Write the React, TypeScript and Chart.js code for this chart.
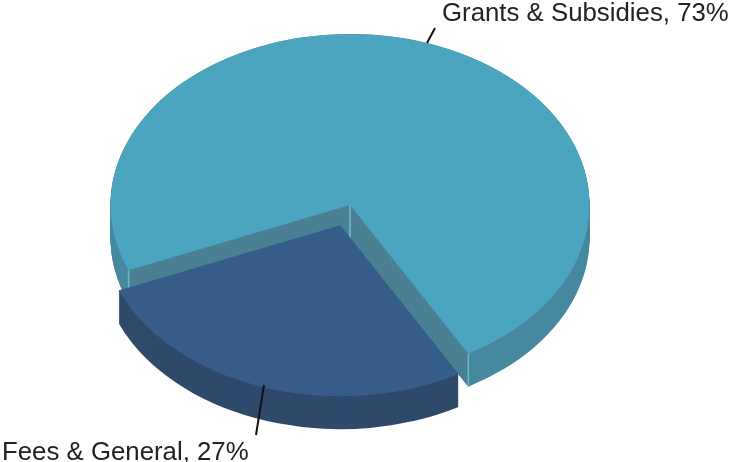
import React, { useEffect, useRef } from "react";
import { Chart, registerables } from "chart.js";

Chart.register(...registerables);

const categories = ["Grants & Subsidies", "Fees & General"];
const shares = [73, 27];
const topColors = ["#4ba5bf", "#365c88"];
const wallColors = ["#46899f", "#2f4a6b"];
const innerColors = ["#4a8092", "#2f4a6b"];
const edgeColors = ["#6fb4c8", "#2f4a6b"];
const explode = [0, 30];

const SQUASH = 0.714;
const DEPTH = 33;

const pie3d = {
  id: "pie3d",
  beforeDatasetDraw(chart: any, args: any) {
    const ctx = chart.ctx as CanvasRenderingContext2D;
    const arcs = args.meta.data as any[];
    const project = (a: any, i: number, ang: number, r: number, d: number) => {
      const mid = (a.startAngle + a.endAngle) / 2;
      return {
        x: a.x + explode[i] * Math.cos(mid) + r * Math.cos(ang),
        y: a.y + (explode[i] * Math.sin(mid) + r * Math.sin(ang)) * SQUASH + d,
      };
    };

    // outer walls: the arc shape extruded downward
    arcs.forEach((a, i) => {
      const mid = (a.startAngle + a.endAngle) / 2;
      const cx = a.x + explode[i] * Math.cos(mid);
      const cy = a.y + explode[i] * Math.sin(mid) * SQUASH;
      ctx.fillStyle = wallColors[i];
      for (let d = DEPTH; d >= 0; d -= 1) {
        ctx.beginPath();
        ctx.moveTo(cx, cy + d);
        ctx.ellipse(cx, cy + d, a.outerRadius, a.outerRadius * SQUASH, 0, a.startAngle, a.endAngle);
        ctx.closePath();
        ctx.fill();
      }
    });

    // cut faces of the large slice
    const g = arcs[0];
    [g.startAngle, g.endAngle].forEach((ang) => {
      const p1 = project(g, 0, ang, 0, 0);
      const p2 = project(g, 0, ang, g.outerRadius, 0);
      const p3 = project(g, 0, ang, g.outerRadius, DEPTH);
      const p4 = project(g, 0, ang, 0, DEPTH);
      ctx.fillStyle = innerColors[0];
      ctx.beginPath();
      ctx.moveTo(p1.x, p1.y);
      ctx.lineTo(p2.x, p2.y);
      ctx.lineTo(p3.x, p3.y);
      ctx.lineTo(p4.x, p4.y);
      ctx.closePath();
      ctx.fill();
      ctx.strokeStyle = edgeColors[0];
      ctx.lineWidth = 1.5;
      ctx.beginPath();
      ctx.moveTo(p2.x, p2.y);
      ctx.lineTo(p3.x, p3.y);
      ctx.stroke();
      ctx.beginPath();
      ctx.moveTo(p1.x, p1.y);
      ctx.lineTo(p4.x, p4.y);
      ctx.stroke();
    });

    // top faces, drawn by the library's arc elements
    arcs.forEach((a, i) => {
      const mid = (a.startAngle + a.endAngle) / 2;
      ctx.save();
      ctx.translate(explode[i] * Math.cos(mid), explode[i] * Math.sin(mid) * SQUASH);
      ctx.translate(0, a.y);
      ctx.scale(1, SQUASH);
      ctx.translate(0, -a.y);
      a.draw(ctx);
      ctx.restore();
    });

    // labels with leader lines
    ctx.fillStyle = "#222222";
    ctx.font = '25.8px "Liberation Sans", Arial, sans-serif';
    ctx.textBaseline = "alphabetic";
    ctx.textAlign = "left";
    ctx.fillText(`${categories[0]}, ${shares[0]}%`, 442, 21);
    ctx.fillText(`${categories[1]}, ${shares[1]}%`, 2, 460);
    ctx.strokeStyle = "#111111";
    ctx.lineWidth = 2;
    ctx.beginPath();
    ctx.moveTo(435, 28);
    ctx.lineTo(427, 43);
    ctx.moveTo(264, 385);
    ctx.lineTo(256, 435);
    ctx.stroke();
    return false;
  },
};

export default function App() {
  const ref = useRef<HTMLCanvasElement>(null);
  useEffect(() => {
    const chart = new Chart(ref.current as HTMLCanvasElement, {
      type: "pie",
      data: {
        labels: categories,
        datasets: [
          {
            data: shares,
            backgroundColor: topColors,
            borderWidth: 0,
            radius: 239.5,
          } as any,
        ],
      },
      options: {
        responsive: false,
        animation: false,
        rotation: 247.6,
        layout: { padding: { right: 29, bottom: 52 } },
        plugins: { legend: { display: false }, tooltip: { enabled: false } },
      },
      plugins: [pie3d],
    } as any);
    return () => chart.destroy();
  }, []);
  return (
    <div style={{ position: "absolute", left: 0, top: 0, width: 729, height: 462, background: "#fff" }}>
      <canvas ref={ref} width={729} height={462} style={{ display: "block" }} />
    </div>
  );
}
